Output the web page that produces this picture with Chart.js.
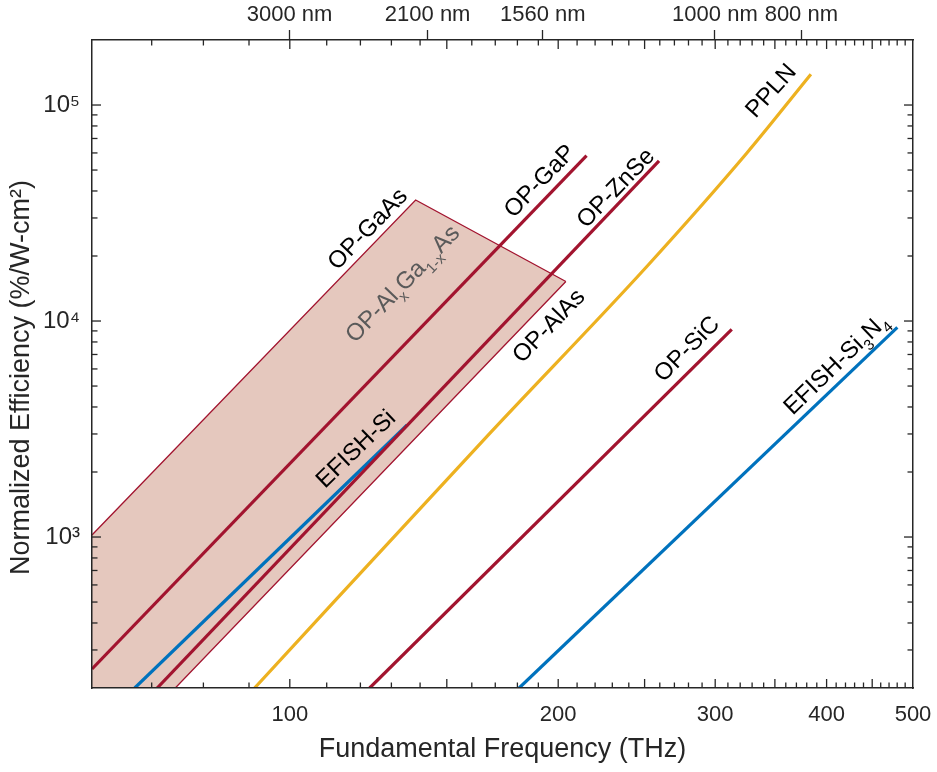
<!DOCTYPE html>
<html>
<head>
<meta charset="utf-8">
<script src="https://cdn.jsdelivr.net/npm/chart.js@4.4.1/dist/chart.umd.min.js"></script>
<style>
html,body{margin:0;padding:0;background:#ffffff;}
canvas{display:block;}
</style>
</head>
<body>
<canvas id="chart" width="937" height="772"></canvas>
<script>
// ---- Data: fundamental frequency (THz) vs normalized efficiency (%/W-cm^2) ----
const opGaP_freq    = [60, 215.2];
const opGaP_eff     = [245, 58300];
const opZnSe_freq   = [71.0, 259.5];
const opZnSe_eff    = [200, 55100];
const efishSi_freq  = [67.0, 135.4];
const efishSi_eff   = [200, 3300];
const ppln_freq     = [91.3, 167.6, 251.3, 325.4, 384.1];
const ppln_eff      = [200, 3020, 17840, 59800, 138700];
const opSiC_freq    = [122.9, 313.1];
const opSiC_eff     = [200, 9150];
const efishSiN_freq = [180.8, 480.2];
const efishSiN_eff  = [200, 9350];
// OP-AlxGa1-xAs band: upper edge (OP-GaAs + composition edge), lower edge (OP-AlAs)
const opGaAs_freq   = [60, 138.4, 204.0];
const opGaAs_eff    = [1022, 36340, 15240];
const opAlAs_freq   = [60, 74.4, 204.0];
const opAlAs_eff    = [200, 200, 15240];

// ---- Axis ticks ----
const xTickValues = [100, 200, 300, 400, 500];
const yTickValues = [1e3, 1e4, 1e5];
const yTickLabels = ['10\u00B3', '10\u2074', '10\u2075'];
const wavelengthTicks = [3000, 2100, 1560, 1000, 800]; // nm on top axis

// ---- Curve labels (anchor in data units) ----
const labelParts = [
  [{t:'OP-GaAs'}],
  [{t:'OP-Al'},{t:'x',sub:true},{t:'Ga'},{t:'1-x',sub:true},{t:'As'}],
  [{t:'OP-GaP'}],
  [{t:'OP-ZnSe'}],
  [{t:'OP-AlAs'}],
  [{t:'PPLN'}],
  [{t:'OP-SiC'}],
  [{t:'EFISH-Si'},{t:'3',sub:true},{t:'N'},{t:'4',sub:true}],
  [{t:'EFISH-Si'}]
];
const labelFreq = [122, 133.5, 190.2, 231.5, 194.7, 345.6, 278.2, 408.7, 118.3];
const labelEff  = [26960, 15000, 44960, 41720, 9586, 117400, 7500, 6392, 2584];
const labelAngle = [-46, -46, -46, -46, -46, -48, -45, -44, -44];
const labelColor = ['#000','#5a5a5a','#000','#000','#000','#000','#000','#000','#000'];

const RED = '#A2142F', BLUE = '#0072BD', YELLOW = '#EDB120';
const FILL = 'rgb(229,200,190)';
const AXIS = '#262626';
const FONT = "'Liberation Sans', Arial, sans-serif";

const pts = (xs, ys) => xs.map((v, i) => ({x: v, y: ys[i]}));

function lineDs(label, xs, ys, color, width, extra) {
  return Object.assign({
    label, data: pts(xs, ys), borderColor: color, borderWidth: width,
    pointRadius: 0, fill: false, tension: 0, clip: 0, order: 0
  }, extra || {});
}

const datasets = [
  // tinted band between the OP-GaAs edge and the OP-AlAs edge
  lineDs('OP-GaAs edge', opGaAs_freq, opGaAs_eff, RED, 1.3, {fill: '+1', backgroundColor: FILL, order: 10}),
  lineDs('OP-AlAs edge', opAlAs_freq, opAlAs_eff, RED, 1.3, {order: 9}),
  lineDs('OP-GaP', opGaP_freq, opGaP_eff, RED, 3.2),
  lineDs('OP-ZnSe', opZnSe_freq, opZnSe_eff, RED, 3.2),
  lineDs('EFISH-Si', efishSi_freq, efishSi_eff, BLUE, 3.2),
  lineDs('PPLN', ppln_freq, ppln_eff, YELLOW, 3.2, {cubicInterpolationMode: 'monotone'}),
  lineDs('OP-SiC', opSiC_freq, opSiC_eff, RED, 3.2),
  lineDs('EFISH-Si3N4', efishSiN_freq, efishSiN_eff, BLUE, 3.2)
];

// inward tick marks on all four sides
const innerTicks = {
  id: 'innerTicks',
  afterDraw(chart) {
    const {ctx, chartArea: a, scales: {x, y}} = chart;
    ctx.save();
    ctx.strokeStyle = AXIS; ctx.lineWidth = 1.3;
    const seg = (x1, y1, x2, y2) => { ctx.beginPath(); ctx.moveTo(x1, y1); ctx.lineTo(x2, y2); ctx.stroke(); };
    for (let f = 70; f < 500; f += 10) {
      const px = x.getPixelForValue(f);
      const L = (f % 50 === 0) ? 9 : 5.5;
      seg(px, a.bottom, px, a.bottom - L);
      seg(px, a.top, px, a.top + L);
    }
    for (let e = 2; e <= 5; e++) {
      for (let m = 1; m <= 9; m++) {
        const v = m * Math.pow(10, e);
        if (v <= 200 || v >= 2e5) continue;
        const py = y.getPixelForValue(v);
        const L = m === 1 ? 9 : 5.5;
        seg(a.left, py, a.left + L, py);
        seg(a.right, py, a.right - L, py);
      }
    }
    ctx.restore();
  }
};

// rotated curve labels
const curveLabels = {
  id: 'curveLabels',
  afterDatasetsDraw(chart) {
    const {ctx, scales: {x, y}} = chart;
    const size = 24, sub = 15;
    labelParts.forEach((parts, i) => {
      const px = x.getPixelForValue(labelFreq[i]);
      const py = y.getPixelForValue(labelEff[i]);
      ctx.save();
      ctx.translate(px, py);
      ctx.rotate(labelAngle[i] * Math.PI / 180);
      let w = 0;
      parts.forEach(p => { ctx.font = (p.sub ? sub : size) + 'px ' + FONT; w += ctx.measureText(p.t).width; });
      let cx = -w / 2;
      ctx.fillStyle = labelColor[i];
      ctx.textBaseline = 'alphabetic';
      parts.forEach(p => {
        ctx.font = (p.sub ? sub : size) + 'px ' + FONT;
        ctx.fillText(p.t, cx, p.sub ? size * 0.36 + 7 : size * 0.36);
        cx += ctx.measureText(p.t).width;
      });
      ctx.restore();
    });
  }
};

const noPadH = s => { s.paddingLeft = 0; s.paddingRight = 0; };
const noPadV = s => { s.paddingTop = 0; s.paddingBottom = 0; };
const BORDER = {display: true, color: AXIS, width: 1.5, z: 1};

new Chart(document.getElementById('chart'), {
  type: 'line',
  data: {datasets},
  plugins: [innerTicks, curveLabels],
  options: {
    responsive: false,
    animation: false,
    devicePixelRatio: 1,
    layout: {padding: 0},
    plugins: {legend: {display: false}, tooltip: {enabled: false}},
    scales: {
      x: {
        type: 'logarithmic', position: 'bottom', min: 60, max: 500,
        afterBuildTicks: s => { s.ticks = xTickValues.map(v => ({value: v})); },
        afterFit: s => { s.height = 84; noPadH(s); },
        grid: {display: false, drawTicks: false},
        border: BORDER,
        ticks: {autoSkip: false, maxRotation: 0, padding: 14, color: AXIS,
          font: {family: FONT, size: 22}, callback: v => String(v)},
        title: {display: true, text: 'Fundamental Frequency (THz)', color: AXIS,
          font: {family: FONT, size: 27}, padding: {top: 0, bottom: 6}}
      },
      x2: {
        type: 'logarithmic', position: 'top', min: 60, max: 500,
        afterBuildTicks: s => { s.ticks = wavelengthTicks.map(nm => ({value: 299792.458 / nm})); },
        afterFit: s => { s.height = 40; noPadH(s); },
        grid: {display: true, drawOnChartArea: false, drawTicks: true, tickLength: 10, tickColor: AXIS, tickWidth: 1.3},
        border: BORDER,
        ticks: {autoSkip: false, maxRotation: 0, padding: 2, color: AXIS,
          font: {family: FONT, size: 22},
          callback: v => Math.round(299792.458 / v / 10) * 10 + ' nm'}
      },
      y: {
        type: 'logarithmic', position: 'left', min: 200, max: 2e5,
        afterBuildTicks: s => { s.ticks = yTickValues.map(v => ({value: v})); },
        afterFit: s => { s.width = 92; noPadV(s); },
        grid: {display: false, drawTicks: false},
        border: BORDER,
        ticks: {autoSkip: false, padding: 12, color: AXIS, font: {family: FONT, size: 24},
          callback: v => yTickLabels[yTickValues.indexOf(v)]},
        title: {display: true, text: 'Normalized Efficiency (%/W-cm\u00B2)\u2002\u2002', color: AXIS,
          font: {family: FONT, size: 27}, padding: {top: 5, bottom: 0}}
      },
      y2: {
        type: 'logarithmic', position: 'right', min: 200, max: 2e5,
        afterFit: s => { s.width = 24; noPadV(s); },
        grid: {display: false, drawTicks: false},
        border: BORDER,
        ticks: {display: false}
      }
    }
  }
});
</script>
</body>
</html>
